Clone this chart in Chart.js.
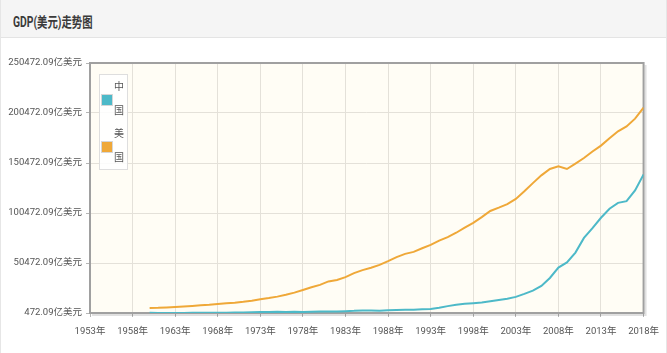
<!DOCTYPE html>
<html>
<head>
<meta charset="utf-8">
<script src="https://cdn.jsdelivr.net/npm/chart.js@4/dist/chart.umd.min.js"></script>
<style>
    html, body { margin: 0; padding: 0; background: #fff; }
    #page {
        position: relative; width: 667px; height: 353px; overflow: hidden;
        box-sizing: border-box; border-left: 1px solid #e6e6e6; border-right: 1px solid #e6e6e6;
        font-family: Roboto, "Noto Sans CJK SC", sans-serif;
    }
    #header {
        height: 38px; background: #f5f5f5; border-bottom: 1px solid #e4e4e4;
        box-sizing: border-box;
    }
    #header span {
        position: absolute; left: 12px; top: 11px; font-size: 14px; font-weight: bold;
        color: #3a3a3a; transform: scaleX(0.74); transform-origin: left center; white-space: nowrap;
    }
    #chartBox { position: absolute; left: 0; top: 39px; width: 667px; height: 314px; }
    #legend {
        position: absolute; left: 98px; top: 74px; width: 29px; height: 96px;
        border: 1px solid #dedede; background: rgba(255,255,255,0.85); box-sizing: border-box;
    }
    .item { position: absolute; left: 0; width: 29px; height: 48px; }
    .swatch {
        position: absolute; left: 1px; top: 19px; width: 10px; height: 10px;
        border: 1px solid #d6d6d6;
    }
    .label {
        position: absolute; left: 13px; top: 0; width: 12px; font-size: 10px;
        line-height: 24px; color: #555; text-align: center;
    }
</style>
</head>
<body>
<div id="page">
    <div id="header"><span>GDP(美元)走势图</span></div>
    <div id="chartBox"><canvas id="gdpChart"></canvas></div>
    <div id="legend"></div>
</div>
<script>
// GDP, 亿美元 (current USD)
const years = [];
for (let y = 1960; y <= 2018; y++) years.push(y);

const chinaGdp = [
    597.2, 500.6, 472.09, 507.1, 597.1, 704.4, 767.2, 728.8, 708.5, 797.1,
    926.0, 998.0, 1136.9, 1385.4, 1441.8, 1634.3, 1539.4, 1749.4, 1495.4, 1782.8,
    1911.5, 1958.7, 2050.9, 2306.9, 2599.5, 3094.9, 3007.6, 2729.7, 3123.5, 3477.7,
    3608.6, 3833.7, 4269.2, 4447.3, 5643.2, 7345.5, 8637.5, 9616.0, 10290.4, 10939.9,
    12113.5, 13394.0, 14705.5, 16602.9, 19553.5, 22859.7, 27521.3, 35503.4, 45943.1, 51017.0,
    60871.6, 75515.0, 85322.3, 95704.1, 104756.8, 110615.5, 112332.8, 123104.1, 138948.2
];

const usGdp = [
    5433, 5633, 6051, 6386, 6858, 7437, 8150, 8617, 9425, 10199,
    10733, 11649, 12791, 14254, 15452, 16849, 18734, 20818, 23516, 26273,
    28573, 32070, 33438, 36340, 40376, 43389, 45796, 48552, 52364, 56416,
    59631, 61581, 65203, 68586, 72872, 76397, 80731, 85776, 90628, 96312,
    102510, 105818, 109364, 114582, 122137, 130366, 138146, 144519, 147128, 144489,
    149921, 155426, 161970, 167849, 175217, 182193, 187072, 194854, 205802
];

const seriesNames = ["中国", "美国"];
const seriesColors = ["#4db9c8", "#efa838"];

const xTicks = [1953, 1958, 1963, 1968, 1973, 1978, 1983, 1988, 1993, 1998, 2003, 2008, 2013, 2018];
const yTicks = [472.09, 50472.09, 100472.09, 150472.09, 200472.09, 250472.09];

// html legend, chars stacked like the narrow original box
const legend = document.getElementById("legend");
seriesNames.forEach((name, i) => {
    const item = document.createElement("div");
    item.className = "item";
    item.style.top = (i * 47) + "px";
    item.innerHTML = `<div class="swatch" style="background:${seriesColors[i]}"></div>` +
        `<div class="label">${name.split("").join("<br>")}</div>`;
    legend.appendChild(item);
});

const plotFrame = {
    id: "plotFrame",
    beforeDraw(chart) {
        const { ctx, chartArea: a } = chart;
        ctx.save();
        ctx.fillStyle = "#fffdf5";
        ctx.fillRect(a.left, a.top, a.right - a.left, a.bottom - a.top);
        ctx.restore();
    },
    beforeDatasetsDraw(chart) {
        const { ctx, chartArea: a } = chart;
        ctx.save();
        // shadow on right / bottom
        ctx.strokeStyle = "rgba(0,0,0,0.12)";
        ctx.lineWidth = 2;
        ctx.beginPath();
        ctx.moveTo(a.right + 2, a.top + 2);
        ctx.lineTo(a.right + 2, a.bottom + 2);
        ctx.lineTo(a.left + 2, a.bottom + 2);
        ctx.stroke();
        ctx.strokeStyle = "#a0a0a0";
        ctx.strokeRect(a.left, a.top, a.right - a.left, a.bottom - a.top);
        ctx.restore();
    }
};

const toPoints = vals => years.map((y, i) => ({ x: y, y: vals[i] }));

new Chart(document.getElementById("gdpChart"), {
    type: "line",
    data: {
        datasets: [chinaGdp, usGdp].map((vals, i) => ({
            label: seriesNames[i],
            data: toPoints(vals),
            borderColor: seriesColors[i],
            borderWidth: 2,
            pointRadius: 0,
            tension: 0,
            fill: false
        }))
    },
    options: {
        responsive: true,
        maintainAspectRatio: false,
        animation: false,
        layout: { padding: { top: 24, right: 20, left: 0, bottom: 0 } },
        plugins: {
            legend: { display: false },
            tooltip: { enabled: false }
        },
        scales: {
            x: {
                type: "linear",
                min: 1953,
                max: 2018,
                afterBuildTicks: scale => { scale.ticks = xTicks.map(v => ({ value: v })); },
                afterFit: scale => { scale.height = 40; },
                ticks: {
                    autoSkip: false,
                    maxRotation: 0,
                    padding: 9,
                    color: "#555",
                    font: { family: "Roboto, 'Noto Sans CJK SC'", size: 9.5 },
                    callback: v => v + "年"
                },
                grid: { color: "#e4e1d9", tickColor: "#b5b5b5", tickLength: 4 },
                border: { display: false }
            },
            y: {
                min: 472.09,
                max: 250472.09,
                afterBuildTicks: scale => { scale.ticks = yTicks.map(v => ({ value: v })); },
                afterFit: scale => { scale.width = 89; },
                ticks: {
                    padding: 4,
                    color: "#555",
                    font: { family: "Roboto, 'Noto Sans CJK SC'", size: 9.5 },
                    callback: v => v.toFixed(2) + "亿美元"
                },
                grid: { color: "#e4e1d9", tickColor: "#b5b5b5", tickLength: 4 },
                border: { display: false }
            }
        }
    },
    plugins: [plotFrame]
});
</script>
</body>
</html>
